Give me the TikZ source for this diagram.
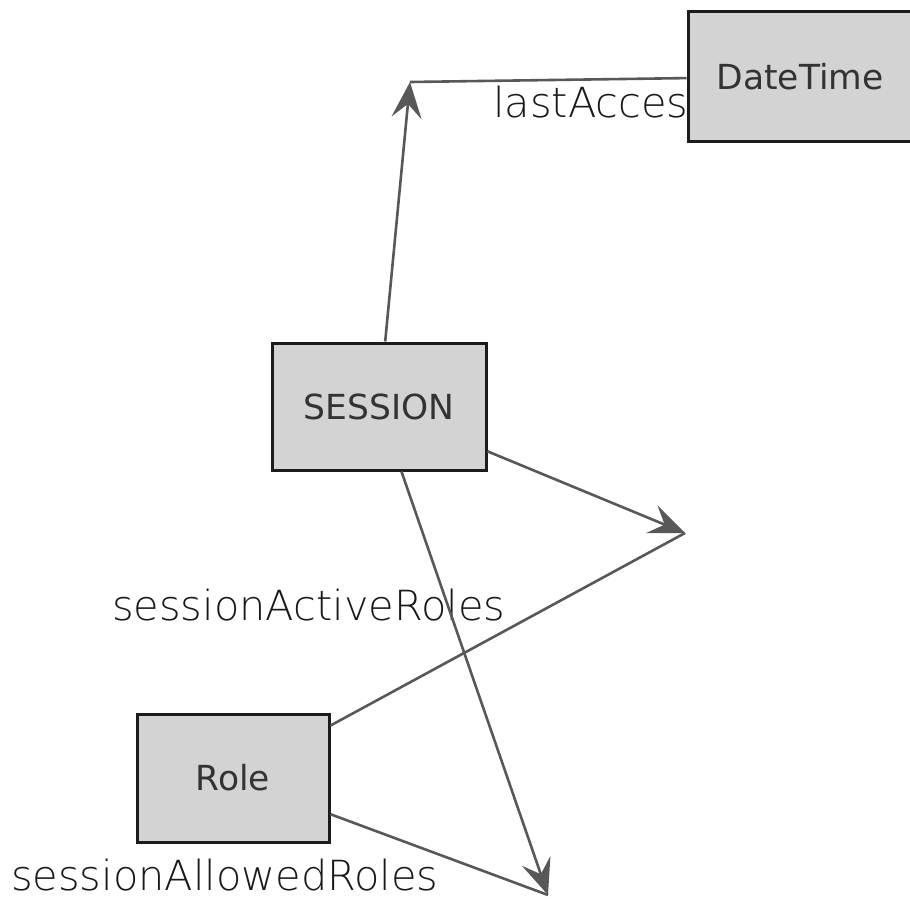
\documentclass[tikz,border=0pt]{standalone}
\usepackage{fontspec}
\setmainfont{DejaVu Sans}
\newfontfamily\thinfont{DejaVu Sans ExtraLight}
\usetikzlibrary{arrows.meta}
\definecolor{edgegray}{HTML}{585858}
\definecolor{boxfill}{HTML}{D3D3D3}
\definecolor{boxline}{HTML}{1C1C1C}
\tikzset{
  classbox/.style={draw=boxline, fill=boxfill, line width=3pt, rectangle,
    inner sep=0pt, font=\fontsize{34.5}{41}\selectfont, text=black!80},
  link/.style={draw=edgegray, line width=2.6pt},
  linkhead/.style={link, -{Stealth[length=36pt, width=30pt, inset=14pt]}},
  rolelabel/.style={anchor=base west, inner sep=0pt,
    font=\thinfont\fontsize{41.5}{49}\selectfont, text=black!90}
}
\begin{document}
\begin{tikzpicture}[x=1pt, y=-1pt]
  \useasboundingbox (0,0) rectangle (910,899);

  % junction points where the property edges meet
  \coordinate (pLast) at (410,82);
  \coordinate (pActive) at (685,533);
  \coordinate (pAllowed) at (548,895);

  % property labels (drawn first so the boxes sit on top)
  \node[rolelabel] (lLast) at (493,117) {lastAcces};
  \node[rolelabel] (lActive) at (112,620) {sessionActiveRoles};
  \node[rolelabel] (lAllowed) at (11,890) {sessionAllowedRoles};

  % class boxes
  \node[classbox, minimum width=214pt, minimum height=127pt] (session) at (379,406.5) {SESSION};
  \node[classbox, minimum width=192pt, minimum height=128pt] (role) at (233,778) {Role};
  \node[classbox, minimum width=224pt, minimum height=129pt] (datetime) at (800,76.5) {DateTime};

  % edges
  \draw[linkhead] (session) -- (pLast);
  \draw[link] (datetime) -- (pLast);
  \draw[linkhead] (session) -- (pActive);
  \draw[link] (role) -- (pActive);
  \draw[linkhead] (session) -- (pAllowed);
  \draw[link] (role) -- (pAllowed);
\end{tikzpicture}
\end{document}
